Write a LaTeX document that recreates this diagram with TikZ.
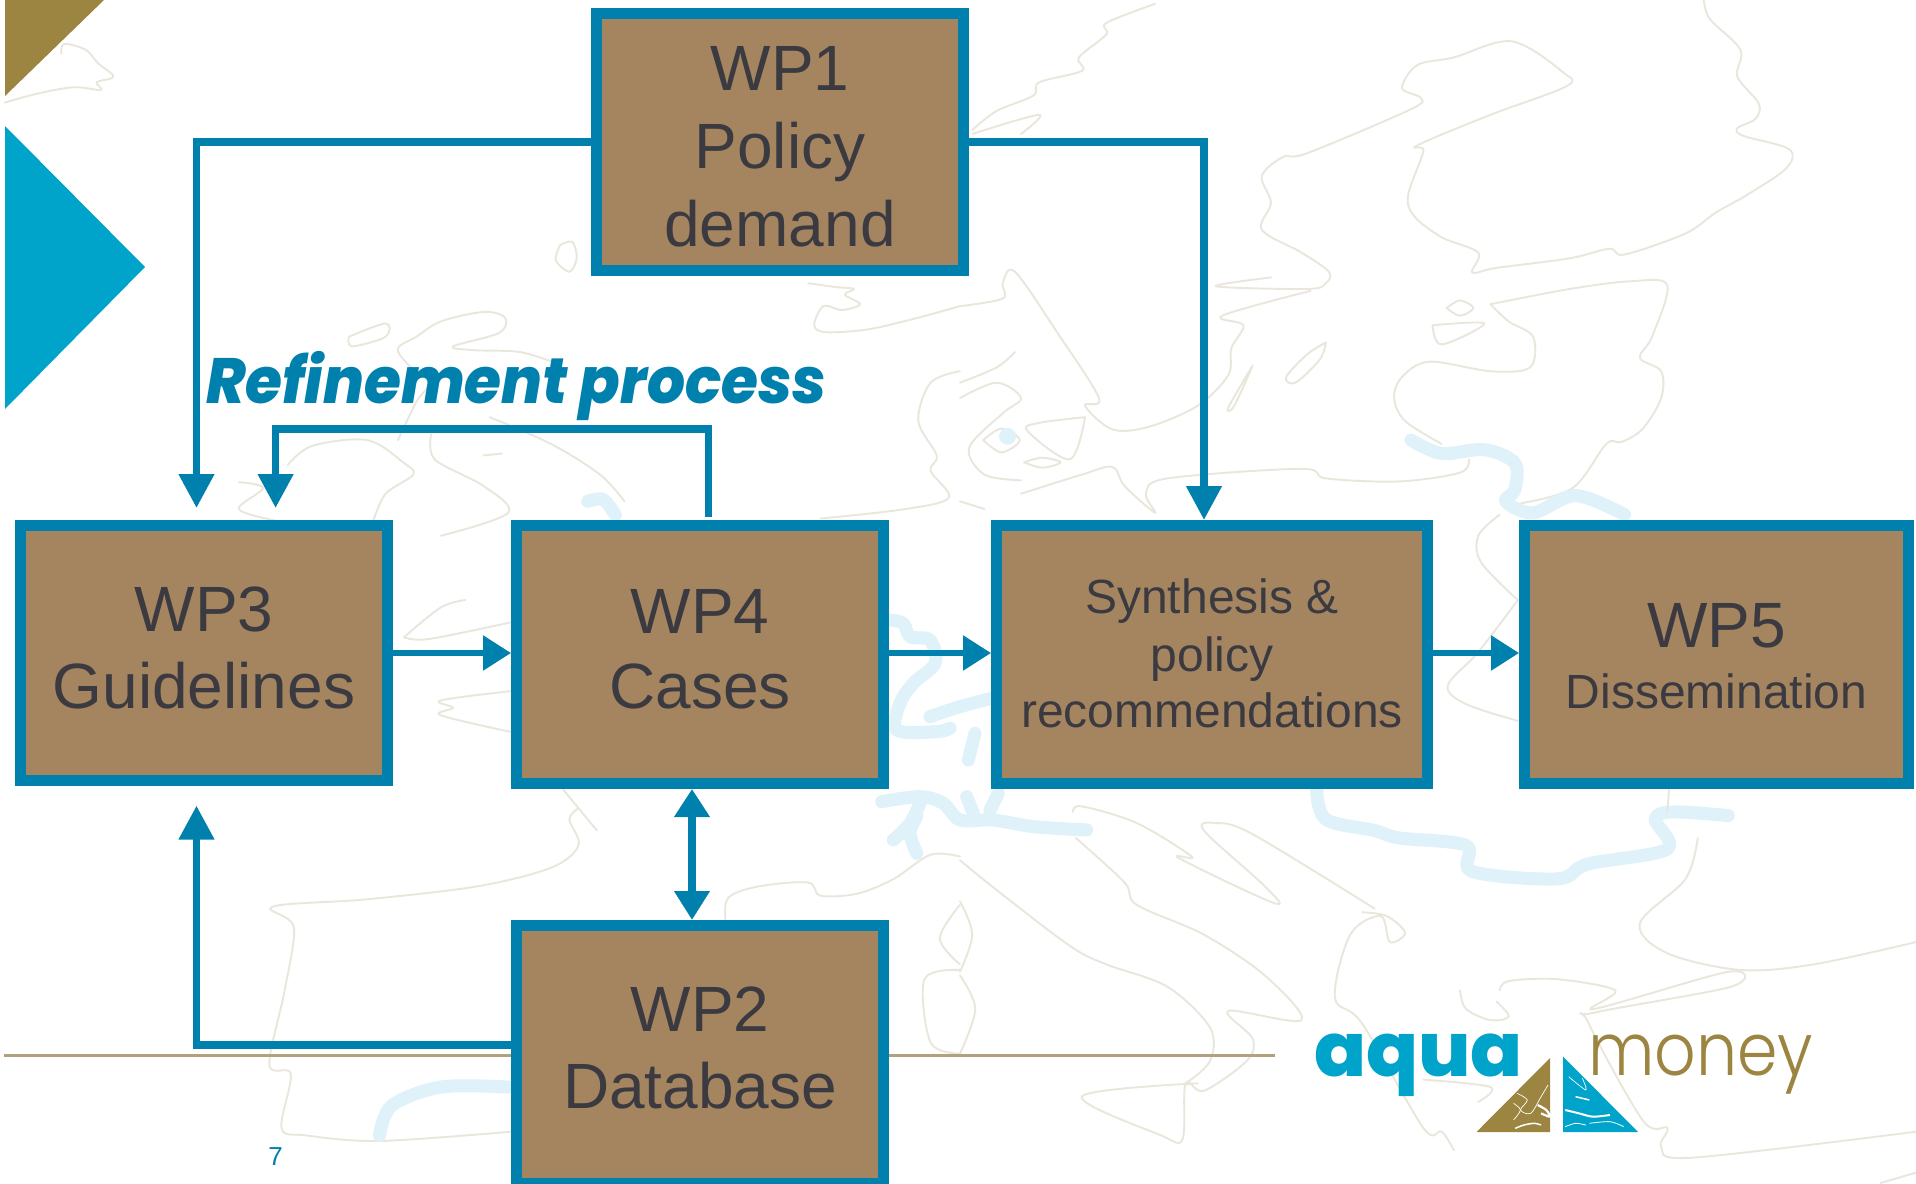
\documentclass[tikz,border=0pt]{standalone}
\usepackage{fontspec}
\usetikzlibrary{arrows.meta}
\setmainfont{Liberation Sans}
\newfontfamily\refinefont[FakeStretch=0.934]{Poppins ExtraBold Italic}
\newfontfamily\aquafont[FakeStretch=1.02]{Poppins ExtraBold}
\newfontfamily\moneyfont[FakeStretch=0.89]{Poppins Light}
\definecolor{wpblue}{HTML}{0080AD}
\definecolor{wpbrown}{HTML}{A58560}
\definecolor{wptext}{HTML}{3A3A40}
\definecolor{cyanbrand}{HTML}{00A3C9}
\definecolor{olivebrand}{HTML}{9B8540}
\definecolor{rulec}{HTML}{AFA27C}
\definecolor{mapc}{HTML}{E9E6DB}
\definecolor{riverc}{HTML}{DFF1F9}
\newcommand{\coast}[1]{\draw[mapline] plot[smooth,tension=.55] coordinates {#1};}
\newcommand{\riverline}[1]{\draw[riverline] plot[smooth,tension=.55] coordinates {#1};}
\newcommand{\boxlabel}[4]{\raisebox{#2pt}[0pt][0pt]{\fontsize{#1}{#3}\selectfont\begin{tabular}[t]{@{}c@{}}#4\end{tabular}}}
\tikzset{
  mapline/.style={draw=mapc,line width=1.9pt,line cap=round,line join=round},
  riverline/.style={draw=riverc,line width=13pt,line cap=round,line join=round},
  wpbox/.style={rectangle,draw=wpblue,fill=wpbrown,line width=11pt,inner sep=0pt,text=wptext},
  conn/.style={draw=wpblue,line width=7.6pt},
  thinconn/.style={draw=wpblue,line width=5.6pt},
  headend/.style={-{Triangle[length=34pt,width=34pt]}},
  headshort/.style={-{Triangle[length=28pt,width=34pt]}},
  headboth/.style={{Triangle[length=28pt,width=34pt]}-{Triangle[length=29pt,width=34pt]}}
}
\begin{document}
\begin{tikzpicture}[x=1pt,y=-1pt]
\useasboundingbox (0,0) rectangle (1916,1183);
\clip (0,0) rectangle (1916,1183);
\fill[white] (0,0) rectangle (1916,1183);
% ---------- map, top-left quadrant
\begin{scope}[x=.6122pt,y=-.3827pt]
\coast{(8,268)(60,245)(120,228)(165,235)(158,215)(185,200)(160,165)(140,130)(105,115)(100,140)}
\coast{(915,640)(935,632)(942,675)(930,710)(908,680)(915,640)}
\coast{(1320,740)(1365,750)(1395,755)(1380,770)(1405,795)(1375,810)(1345,800)(1330,850)(1350,868)(1420,860)(1500,830)(1568,800)}
\coast{(570,880)(630,845)(630,880)(575,905)(570,880)}
\coast{(650,1150)(680,1050)(700,1000)(665,950)(650,910)(680,880)(720,840)(790,815)(825,830)(815,870)(740,905)(775,915)(850,920)(910,950)}
\coast{(800,1090)(900,1160)(980,1240)(1020,1310)}
\coast{(705,1130)(710,1200)(790,1270)(830,1340)(720,1400)}
\coast{(790,1190)(820,1185)}
\coast{(470,1215)(510,1165)(600,1150)(660,1210)(675,1240)(630,1290)(610,1360)}
\coast{(390,1260)(430,1275)(390,1330)(450,1360)}
\coast{(1568,970)(1520,1000)(1500,1100)(1530,1190)(1520,1230)(1550,1300)(1480,1330)(1340,1355)}
\riverline{(960,1310)(985,1305)(1005,1345)}
\end{scope}
% ---------- map, top-right quadrant
\begin{scope}[shift={(960,0)},x=.6097pt,y=-.3827pt]
\coast{(20,340)(60,290)(120,250)(130,215)(200,185)(195,150)(240,90)(240,60)(320,10)}
\coast{(20,350)(130,300)(100,350)}
\coast{(1220,0)(1230,50)(1280,130)(1275,200)(1310,270)(1305,310)(1275,335)(1285,355)(1360,390)(1355,440)(1290,510)(1240,555)(1190,610)(1090,665)(1065,650)(1000,675)(880,700)(840,712)(850,660)(790,620)(745,565)(735,510)(760,395)(750,380)(870,300)(995,225)(990,190)(905,108)(810,150)(750,170)(725,230)(755,255)(740,285)(570,400)(530,410)(495,460)(510,530)(495,600)(560,660)(605,710)(600,740)(570,755)(420,748)(510,725)}
\coast{(575,760)(430,825)(465,850)(445,910)(440,980)(390,1060)(310,1115)(250,1122)(205,1060)(228,1040)(160,870)(90,710)(70,740)(70,780)(0,800)}
\coast{(600,895)(570,925)(535,985)(550,1000)(590,940)(600,895)}
\coast{(480,955)(440,1065)(450,1060)(480,955)}
\coast{(798,805)(820,785)(842,805)(820,825)(798,805)}
\coast{(775,850)(860,845)(790,900)(775,850)}
\coast{(870,795)(1000,755)(1100,735)(1160,745)(1135,880)(1115,935)(1150,970)(1150,1040)(1120,1120)(1085,1155)(1060,1160)(1005,1275)(920,1315)}
\coast{(870,795)(900,840)(940,880)(935,960)(870,970)(770,945)(725,985)(712,1040)(730,1100)(790,1160)}
\coast{(100,1290)(200,1240)(250,1220)(270,1270)(320,1340)(305,1290)(340,1250)(560,1225)(600,1250)(720,1258)(820,1235)(835,1200)}
\coast{(0,1040)(60,1000)(100,1040)(70,1080)(15,1170)(40,1240)(100,1255)}
\coast{(38,1150)(68,1120)(98,1150)(68,1182)(38,1150)}
\coast{(205,1090)(130,1105)(110,1125)(180,1200)(205,1090)}
\coast{(105,1208)(135,1196)(165,1208)(135,1222)(105,1208)}
\coast{(0,1000)(60,960)(90,920)}
\coast{(0,1310)(40,1330)}
\coast{(885,1345)(850,1400)(855,1470)(915,1568)}
\riverline{(740,1150)(790,1185)(860,1175)(910,1210)(910,1280)(895,1310)(940,1340)(1010,1295)(1090,1345)}
\fill[riverc] (78,1140) ellipse (14 and 22);
\end{scope}
% ---------- map, bottom-left quadrant
\begin{scope}[shift={(0,600)},x=.6122pt,y=-.3718pt]
\coast{(660,100)(720,20)(760,0)}
\coast{(660,100)(700,105)(835,60)}
\coast{(835,245)(720,270)(740,290)(720,310)(835,355)}
\coast{(920,510)(975,620)}
\coast{(945,560)(930,590)(945,660)(900,720)(780,770)(600,805)(445,825)(480,880)(465,1050)(440,1250)(475,1275)(460,1420)(500,1440)(620,1455)(835,1430)}
\coast{(1185,860)(1190,800)(1240,770)(1320,760)(1340,795)(1400,790)(1460,750)(1520,685)(1568,690)}
\coast{(1568,820)(1535,910)(1568,980)}
\coast{(1568,995)(1510,1020)(1520,1190)(1568,1220)}
\riverline{(620,1440)(640,1360)(720,1310)(830,1310)}
\end{scope}
% ---------- rivers and lakes beside WP4
\begin{scope}[shift={(860,590)},x=.3333pt,y=-.3333pt]
\riverline{(90,90)(130,100)(150,140)(210,150)(225,220)(160,280)(120,340)(110,420)(230,425)(270,415)}
\riverline{(210,380)(300,350)(395,325)}
\riverline{(345,430)(325,510)}
\riverline{(65,635)(180,620)(250,640)(300,690)(400,690)(520,710)(680,720)}
\riverline{(100,750)(150,700)(180,640)}
\riverline{(170,790)(150,730)(170,680)}
\riverline{(320,620)(340,670)}
\riverline{(415,610)(390,660)}
\end{scope}
% ---------- map, bottom-right quadrant
\begin{scope}[shift={(960,600)},x=.6097pt,y=-.3718pt]
\riverline{(585,510)(600,590)(680,620)(720,640)(830,660)(840,730)(980,750)(1030,710)(1160,670)(1140,590)(1170,570)(1260,580)}
\coast{(190,640)(270,760)(290,820)(400,900)(500,1010)(560,1130)(440,1105)(480,1180)(470,1240)(400,1320)(370,1300)(365,1450)(330,1440)(200,1335)(390,1300)}
\coast{(0,700)(60,780)(180,930)(240,980)(340,1040)(410,1150)(410,1240)(370,1300)}
\coast{(185,570)(200,555)(290,600)(380,690)(360,695)(515,815)(500,770)(400,620)(420,600)(480,630)(680,830)}
\coast{(660,840)(700,850)(730,895)(705,920)(690,850)(640,900)(615,1070)(660,1140)(760,1420)(790,1430)(810,1480)}
\coast{(1163,510)(1160,570)}
\coast{(1210,640)(1190,750)(1115,870)(1160,950)(1280,995)(1400,980)(1568,920)}
\coast{(820,1050)(830,1100)(870,1130)(900,1120)(880,1080)}
\coast{(885,1050)(900,1025)(980,1020)(1075,1050)(1040,1100)(1260,1000)(1265,1040)(1040,1110)(1030,1135)(1120,1400)(1160,1420)(1150,1470)(1200,1500)(1568,1430)}
\coast{(1510,1568)(1568,1540)}
\coast{(0,810)(20,900)(0,1000)}
\coast{(0,1010)(25,1100)(0,1220)}
\coast{(760,1290)(870,1310)(850,1350)}
\coast{(915,0)(850,140)(800,230)(830,280)(915,325)}
\end{scope}
% ---------- slide furniture
\fill[olivebrand] (5,0) -- (104,0) -- (5,96) -- cycle;
\fill[cyanbrand] (5,126) -- (145,267) -- (5,409) -- cycle;
\draw[rulec,line width=3pt] (4,1055) -- (1275,1055);
% ---------- boxes
\node[wpbox,minimum width=367pt,minimum height=257.4pt] (wp1) at (780,141.8)
  {\boxlabel{64}{51.8}{78}{WP1\\Policy\\demand}};
\node[wpbox,minimum width=367.4pt,minimum height=255pt] (wp3) at (204,653)
  {\boxlabel{64}{21.4}{77}{WP3\\Guidelines}};
\node[wpbox,minimum width=367pt,minimum height=258pt] (wp4) at (700,654.5)
  {\boxlabel{64}{21}{75}{WP4\\Cases}};
\node[wpbox,minimum width=431pt,minimum height=258pt] (syn) at (1212,654.5)
  {\boxlabel{48}{41.5}{56}{Synthesis \&\\[2pt]policy\\recommendations}};
\node[wpbox,minimum width=384pt,minimum height=258pt] (wp5) at (1716.5,654.5)
  {\raisebox{6.9pt}[0pt][0pt]{\fontsize{64}{61}\selectfont\begin{tabular}[t]{@{}c@{}}WP5\\\fontsize{48}{56}\selectfont Dissemination\end{tabular}}};
\node[wpbox,minimum width=367pt,minimum height=258pt] (wp2) at (700,1054.5)
  {\boxlabel{64}{23.5}{77.5}{WP2\\Database}};
% ---------- free ends
\coordinate (tipa) at (196.5,508);
\coordinate (tipb) at (275.6,508);
\coordinate (tipc) at (196.5,805.6);
% ---------- connectors
\draw[conn,headend] (wp1.west) -| (tipa);
\draw[conn,headend] (wp1.east) -| ([xshift=-8pt]syn.north);
\draw[conn,headend] ([xshift=8.5pt,yshift=3.5pt]wp4.north) -- ++(0,-87.6) -| (tipb);
\draw[thinconn,headshort] (wp3.east) -- (wp4.west |- wp3.east);
\draw[thinconn,headshort] (wp4.east |- wp3.east) -- (syn.west |- wp3.east);
\draw[thinconn,headshort] (syn.east |- wp3.east) -- (wp5.west |- wp3.east);
\draw[conn,headboth] ([xshift=-8pt]wp4.south) -- ([xshift=-8pt]wp2.north);
\draw[conn,headend] ([yshift=9.5pt]wp2.west) -| (tipc);
% ---------- labels
\node[anchor=base west,inner sep=0pt,text=wpblue,font=\refinefont\fontsize{64}{64}\selectfont] (refine) at (206,403) {Refinement process};
\node[anchor=base,inner sep=0pt,text=wpblue,font=\fontsize{26}{26}\selectfont] (pagenum) at (275.5,1165) {7};
% ---------- logo
\node[anchor=base west,inner sep=0pt,text=cyanbrand,font=\aquafont\fontsize{75}{75}\selectfont] (aqua) at (1314,1076) {aqua};
\node[anchor=base west,inner sep=0pt,text=olivebrand,font=\moneyfont\fontsize{73}{73}\selectfont] (money) at (1588,1075) {money};
\fill[olivebrand] (1476.5,1132) -- (1550,1058) -- (1550,1132) -- cycle;
\fill[cyanbrand] (1563,1056.5) -- (1563,1132) -- (1638,1132) -- cycle;
\begin{scope}[shift={(1300,1010)},x=.3444pt,y=-.3333pt]
\draw[white,line width=1.5pt,line join=round] plot[smooth] coordinates {(625,355)(650,345)(680,340)(700,345)};
\draw[white,line width=2.2pt,line join=round] plot[smooth] coordinates {(690,285)(715,300)(725,320)(700,310)};
\draw[white,line width=.7pt] plot[smooth] coordinates {(630,250)(660,270)(640,300)(670,310)(700,260)(720,225)};
\draw[white,line width=.7pt] plot[smooth] coordinates {(620,330)(640,300)(620,280)};
\draw[white,line width=2pt,line join=round] plot[smooth] coordinates {(770,300)(810,310)(850,320)(900,315)};
\draw[white,line width=1.5pt] plot[smooth] coordinates {(800,260)(840,270)};
\draw[white,line width=.7pt] plot[smooth] coordinates {(780,200)(830,240)(820,205)};
\draw[white,line width=.8pt] plot[smooth] coordinates {(770,350)(800,340)(830,345)};
\draw[white,line width=.8pt] plot[smooth] coordinates {(840,340)(900,335)(940,350)};
\end{scope}
\end{tikzpicture}
\end{document}
